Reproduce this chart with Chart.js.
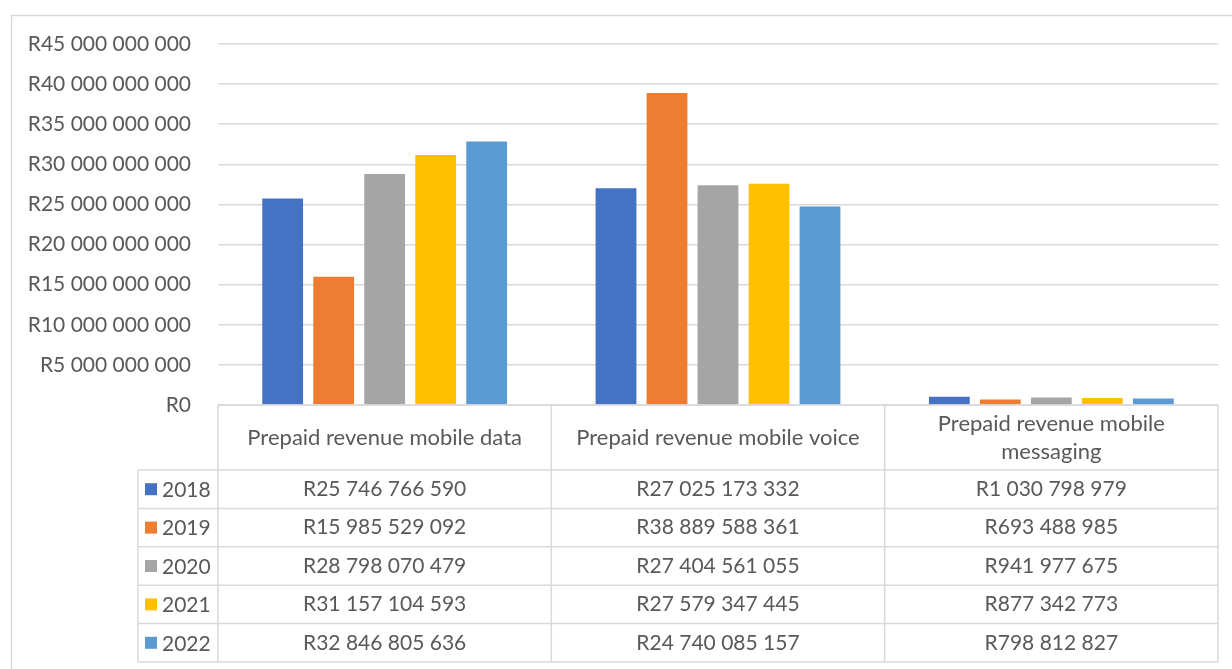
<!DOCTYPE html>
<html><head><meta charset="utf-8">
<script src="https://cdn.jsdelivr.net/npm/chart.js@4.4.1/dist/chart.umd.min.js"></script>
<style>html,body{margin:0;padding:0;background:#fff;}#wrap{width:1232px;height:669px;position:relative;}</style>
</head><body><div id="wrap"><canvas id="c" width="1232" height="669"></canvas></div>
<script>
const categories = [["Prepaid revenue mobile data"], ["Prepaid revenue mobile voice"], ["Prepaid revenue mobile", "messaging"]];
const years = ["2018", "2019", "2020", "2021", "2022"];
const values2018 = [25746766590, 27025173332, 1030798979];
const values2019 = [15985529092, 38889588361, 693488985];
const values2020 = [28798070479, 27404561055, 941977675];
const values2021 = [31157104593, 27579347445, 877342773];
const values2022 = [32846805636, 24740085157, 798812827];
const colors = ["#4472C4", "#ED7D31", "#A5A5A5", "#FFC000", "#5B9BD5"];
const yMax = 45000000000, yStep = 5000000000;

const series = [values2018, values2019, values2020, values2021, values2022];
const FONT = "Lato, 'Open Sans', sans-serif";
const TXT = "#595959", LINE = "#d9d9d9";
function fmt(v){ return "R" + Math.round(v).toString().replace(/\B(?=(\d{3})+(?!\d))/g, " "); }

const tablePlugin = {
  id: "dataTable",
  beforeDraw(chart){
    const ctx = chart.ctx;
    ctx.save();
    ctx.strokeStyle = LINE; ctx.lineWidth = 1.5;
    ctx.strokeRect(11.5, 15.5, 1300, 700);
    ctx.restore();
  },
  afterDraw(chart){
    const ctx = chart.ctx, x = chart.scales.x, area = chart.chartArea;
    const n = categories.length;
    const colW = (area.right - area.left) / n;
    const headerH = 65, rowH = 38.4, keyLeft = 138;
    const top = area.bottom, rowsTop = top + headerH;
    const bottom = rowsTop + rowH * years.length;
    ctx.save();
    ctx.strokeStyle = LINE; ctx.lineWidth = 1.5;
    ctx.beginPath();
    ctx.moveTo(area.left, top); ctx.lineTo(area.right, top);
    for (let r = 0; r <= years.length; r++) {
      const yy = rowsTop + r * rowH;
      ctx.moveTo(keyLeft, yy); ctx.lineTo(area.right, yy);
    }
    for (let i = 0; i <= n; i++) {
      const xx = area.left + i * colW;
      ctx.moveTo(xx, top); ctx.lineTo(xx, bottom);
    }
    ctx.moveTo(keyLeft, rowsTop); ctx.lineTo(keyLeft, bottom);
    ctx.stroke();
    ctx.fillStyle = TXT;
    ctx.textAlign = "center"; ctx.textBaseline = "middle";
    for (let i = 0; i < n; i++) {
      const cx = x.getPixelForTick(i);
      const lines = categories[i];
      const lh = 28;
      ctx.font = "22px " + FONT;
      lines.forEach((t, k) => {
        ctx.fillText(t, cx, top + headerH / 2 + (k - (lines.length - 1) / 2) * lh);
      });
      ctx.font = "21px " + FONT;
      series.forEach((s, r) => {
        ctx.fillText(fmt(s[i]), cx, rowsTop + r * rowH + rowH / 2);
      });
    }
    ctx.textAlign = "left";
    ctx.font = "21px " + FONT;
    years.forEach((yr, r) => {
      const cy = rowsTop + r * rowH + rowH / 2;
      ctx.fillStyle = colors[r];
      ctx.fillRect(keyLeft + 7, cy - 6, 12, 12);
      ctx.fillStyle = TXT;
      ctx.fillText(yr, keyLeft + 24, cy + 1);
    });
    ctx.restore();
  }
};

new Chart(document.getElementById("c"), {
  type: "bar",
  data: {
    labels: categories.map(c => c.join(" ")),
    datasets: years.map((yr, i) => ({ label: yr, data: series[i], backgroundColor: colors[i], borderWidth: 0 }))
  },
  options: {
    responsive: false, animation: false, devicePixelRatio: 1,
    layout: { padding: { top: 44, right: 14, bottom: 256, left: 0 } },
    plugins: { legend: { display: false }, tooltip: { enabled: false } },
    datasets: { bar: { categoryPercentage: 0.765, barPercentage: 0.8 } },
    scales: {
      x: { grid: { display: false }, border: { display: false }, ticks: { display: false } },
      y: {
        min: 0, max: yMax,
        afterFit(s){ s.width = 218; },
        ticks: { stepSize: yStep, callback: v => fmt(v), color: TXT, padding: 27, font: { family: FONT, size: 21 } },
        grid: { color: LINE, lineWidth: 1.5, drawTicks: false },
        border: { display: false }
      }
    }
  },
  plugins: [tablePlugin]
});
</script></body></html>
